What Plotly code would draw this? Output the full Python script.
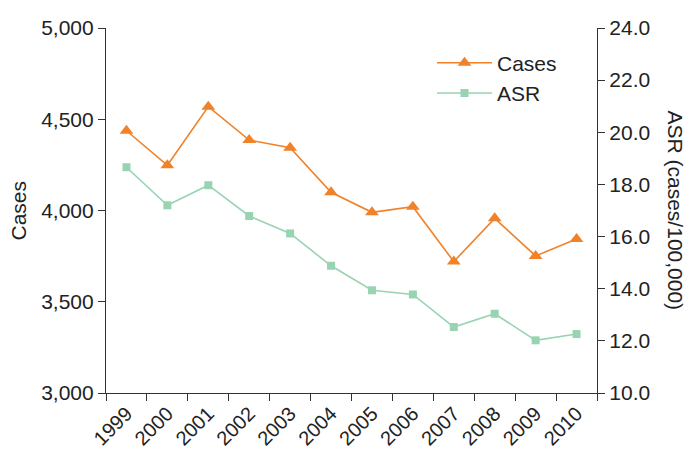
import plotly.graph_objects as go

years = ["1999", "2000", "2001", "2002", "2003", "2004", "2005", "2006", "2007", "2008", "2009", "2010"]
cases = [4437, 4248, 4569, 4386, 4344, 4100, 3990, 4021, 3720, 3957, 3751, 3844]
asr = [18.66, 17.20, 17.97, 16.79, 16.12, 14.88, 13.94, 13.78, 12.53, 13.04, 12.02, 12.26]

ORANGE = "#f0822a"
GREEN = "#98d4b1"
FONT = "Liberation Sans, Arial, sans-serif"
AX = "#333333"

fig = go.Figure()
fig.add_trace(go.Scatter(x=years, y=cases, name="Cases", mode="lines+markers",
                         line=dict(color=ORANGE, width=1.6),
                         marker=dict(symbol="triangle-up", size=12, color=ORANGE)))
fig.add_trace(go.Scatter(x=years, y=asr, name="ASR", mode="lines+markers", yaxis="y2",
                         line=dict(color=GREEN, width=1.6),
                         marker=dict(symbol="square", size=8, color=GREEN)))

fig.update_layout(
    template="none",
    width=693, height=458,
    margin=dict(l=106, r=96, t=28, b=65, autoexpand=False),
    paper_bgcolor="white", plot_bgcolor="white",
    font=dict(family=FONT, size=21, color="#222222"),
    showlegend=True,
    legend=dict(x=0.664, y=0.96, xanchor="left", yanchor="top",
                bgcolor="rgba(0,0,0,0)", borderwidth=0, font=dict(size=21),
                tracegroupgap=0, itemwidth=55),
    xaxis=dict(type="category", range=[-0.5, 11.5], tickson="boundaries",
               ticks="outside", ticklen=7, tickcolor=AX, showline=True,
               linecolor=AX, linewidth=1.2, showgrid=False, tickangle=-45,
               tickfont=dict(size=20), automargin=False),
    yaxis=dict(range=[3000, 5000], dtick=500, tickformat=",", ticks="outside",
               ticklen=7, tickcolor=AX, showline=True, linecolor=AX, linewidth=1.2,
               showgrid=False, zeroline=False, tickfont=dict(size=21), automargin=False),
    yaxis2=dict(range=[10, 24], dtick=2, tickformat=".1f", overlaying="y", side="right",
                ticks="outside", ticklen=7, tickcolor=AX, showline=True, linecolor=AX,
                linewidth=1.2, showgrid=False, zeroline=False, tickfont=dict(size=21),
                automargin=False),
    annotations=[
        dict(text="Cases", x=0, y=0.5, xref="paper", yref="paper", showarrow=False,
             textangle=-90, font=dict(size=21), xanchor="center", yanchor="middle",
             xshift=18 - 106),
        dict(text="ASR (cases/100,000)", x=1, y=0.5, xref="paper", yref="paper",
             showarrow=False, textangle=90, font=dict(size=21),
             xanchor="center", yanchor="middle", xshift=675 - 597),
    ],
)

fig.write_html("out.html", config={"displayModeBar": False},
               post_script="document.body.style.margin='0';document.body.style.padding='0';")
